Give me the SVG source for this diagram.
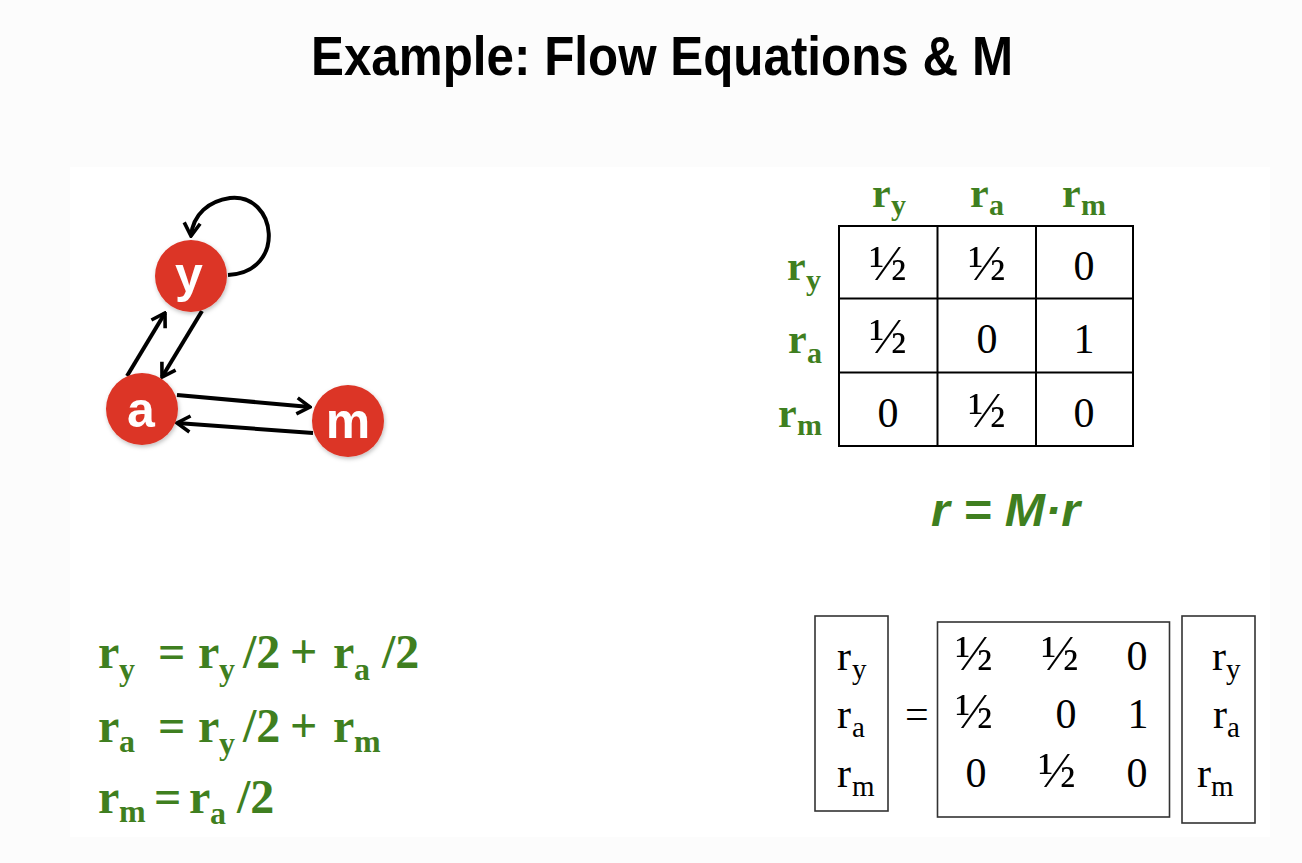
<svg xmlns="http://www.w3.org/2000/svg" width="1302" height="863" viewBox="0 0 1302 863">
<style>
.title{font-family:"Liberation Sans",Arial,sans-serif;font-weight:bold;font-size:56px;fill:#000}
.node{fill:#dc3425}
.nlab{font-family:"Liberation Sans",Arial,sans-serif;font-weight:bold;font-size:50px;fill:#fff;text-anchor:middle}
.edge{fill:none;stroke:#000;stroke-width:4}
.g{font-family:"Liberation Serif","Times New Roman",serif;font-weight:bold;fill:#3f7f20}
.gh{font-size:42px}
.gs{font-size:30px}
.ge{font-size:48px}
.ges{font-size:32px}
.cell{font-family:"Liberation Serif","Times New Roman",serif;font-size:42px;fill:#000;text-anchor:middle}
.m{font-family:"Liberation Serif","Times New Roman",serif;font-size:42px;fill:#000}
.ms{font-size:29px}
.cell.half,.m.half{font-size:50px}
.grid{fill:none;stroke:#000;stroke-width:2}
.box{fill:none;stroke:#333;stroke-width:1.6}
.rmr{font-family:"Liberation Sans",Arial,sans-serif;font-weight:bold;font-style:italic;font-size:46px;fill:#3f7f20}
</style>
<defs>
<marker id="arr" viewBox="-17 -10 19 20" refX="0" refY="0" markerWidth="19" markerHeight="20" markerUnits="userSpaceOnUse" orient="auto">
<path d="M-13,-8 L0,0 L-13,8" fill="none" stroke="#000" stroke-width="3.6"/>
</marker>
<filter id="sh" x="-30%" y="-30%" width="160%" height="160%">
<feDropShadow dx="1" dy="2" stdDeviation="2" flood-color="#000" flood-opacity="0.25"/>
</filter>
</defs>
<rect x="0" y="0" width="1302" height="863" fill="#fcfcfc"/>
<rect x="70" y="167" width="1200" height="670" fill="#ffffff"/>
<text class="title" x="311" y="75" textLength="702" lengthAdjust="spacingAndGlyphs">Example: Flow Equations &amp; M</text>

<g id="connectors">
<path class="edge" d="M228,275 C287,272 277,193 230,198 C209,201 193,214 191,236" marker-end="url(#arr)"/>
<line class="edge" x1="127" y1="376" x2="165" y2="313" marker-end="url(#arr)"/>
<line class="edge" x1="202" y1="311" x2="162" y2="377" marker-end="url(#arr)"/>
<line class="edge" x1="177" y1="395" x2="310" y2="407" marker-end="url(#arr)"/>
<line class="edge" x1="313" y1="433" x2="177" y2="423" marker-end="url(#arr)"/>
</g>

<g id="node-y">
<circle class="node" cx="191" cy="276" r="36" filter="url(#sh)"/>
<text class="nlab" x="189" y="292">y</text>
</g>
<g id="node-a">
<circle class="node" cx="142" cy="409" r="36" filter="url(#sh)"/>
<text class="nlab" x="141" y="427">a</text>
</g>
<g id="node-m">
<circle class="node" cx="348" cy="421" r="36" filter="url(#sh)"/>
<text class="nlab" x="348" y="438">m</text>
</g>

<g id="matrix-table">
<rect class="grid" x="839" y="226" width="294" height="220"/>
<line class="grid" x1="937.5" y1="226" x2="937.5" y2="446"/>
<line class="grid" x1="1036" y1="226" x2="1036" y2="446"/>
<line class="grid" x1="839" y1="298.5" x2="1133" y2="298.5"/>
<line class="grid" x1="839" y1="372.5" x2="1133" y2="372.5"/>
<text class="g gh" x="872" y="207">r<tspan class="gs" x="891" y="215">y</tspan></text>
<text class="g gh" x="970" y="207">r<tspan class="gs" x="989" y="215">a</tspan></text>
<text class="g gh" x="1062" y="207">r<tspan class="gs" x="1081" y="215">m</tspan></text>
<text class="g gh" x="787" y="280">r<tspan class="gs" x="806" y="290">y</tspan></text>
<text class="g gh" x="788" y="353">r<tspan class="gs" x="807" y="363">a</tspan></text>
<text class="g gh" x="778" y="427">r<tspan class="gs" x="797" y="435">m</tspan></text>
<text class="cell half" x="888" y="280">½</text>
<text class="cell half" x="987" y="280">½</text>
<text class="cell" x="1084" y="280">0</text>
<text class="cell half" x="888" y="353">½</text>
<text class="cell" x="987" y="353">0</text>
<text class="cell" x="1084" y="353">1</text>
<text class="cell" x="888" y="427">0</text>
<text class="cell half" x="987" y="427">½</text>
<text class="cell" x="1084" y="427">0</text>
</g>

<g id="formula">
<text class="rmr" x="931" y="526" textLength="149" lengthAdjust="spacingAndGlyphs">r = M·r</text>
</g>

<g id="equations">
<text class="g ge" y="668"><tspan x="98">r</tspan><tspan class="ges" x="119" y="680">y</tspan><tspan x="158" y="668">=</tspan><tspan x="198">r</tspan><tspan class="ges" x="219" y="680">y</tspan><tspan x="243" y="668">/2</tspan><tspan x="290">+</tspan><tspan x="333">r</tspan><tspan class="ges" x="354" y="680">a</tspan><tspan x="382" y="668">/2</tspan></text>
<text class="g ge" y="742"><tspan x="98">r</tspan><tspan class="ges" x="119" y="752">a</tspan><tspan x="158" y="742">=</tspan><tspan x="198">r</tspan><tspan class="ges" x="219" y="754">y</tspan><tspan x="243" y="742">/2</tspan><tspan x="290">+</tspan><tspan x="333">r</tspan><tspan class="ges" x="354" y="752">m</tspan></text>
<text class="g ge" y="813"><tspan x="98">r</tspan><tspan class="ges" x="119" y="822">m</tspan><tspan x="154" y="813">=</tspan><tspan x="189">r</tspan><tspan class="ges" x="210" y="824">a</tspan><tspan x="237" y="813">/2</tspan></text>
</g>

<g id="matrix-equation">
<rect class="box" x="815" y="616" width="73" height="195"/>
<rect class="box" x="937.5" y="622" width="232" height="195"/>
<rect class="box" x="1182" y="616" width="73" height="207"/>
<text class="m" x="837" y="670">r<tspan class="ms" x="852" y="679">y</tspan></text>
<text class="m" x="837" y="728">r<tspan class="ms" x="852" y="737">a</tspan></text>
<text class="m" x="837" y="787">r<tspan class="ms" x="852" y="796">m</tspan></text>
<text class="m" x="905" y="728" font-size="46">=</text>
<text class="m half" x="974" y="670" text-anchor="middle">½</text>
<text class="m half" x="1060" y="670" text-anchor="middle">½</text>
<text class="m" x="1137" y="670" text-anchor="middle">0</text>
<text class="m half" x="974" y="728" text-anchor="middle">½</text>
<text class="m" x="1066" y="728" text-anchor="middle">0</text>
<text class="m" x="1138" y="728" text-anchor="middle">1</text>
<text class="m" x="976" y="787" text-anchor="middle">0</text>
<text class="m half" x="1057" y="787" text-anchor="middle">½</text>
<text class="m" x="1137" y="787" text-anchor="middle">0</text>
<text class="m" x="1212" y="670">r<tspan class="ms" x="1226" y="679">y</tspan></text>
<text class="m" x="1213" y="728">r<tspan class="ms" x="1227" y="737">a</tspan></text>
<text class="m" x="1197" y="787">r<tspan class="ms" x="1211" y="796">m</tspan></text>
</g>
</svg>
